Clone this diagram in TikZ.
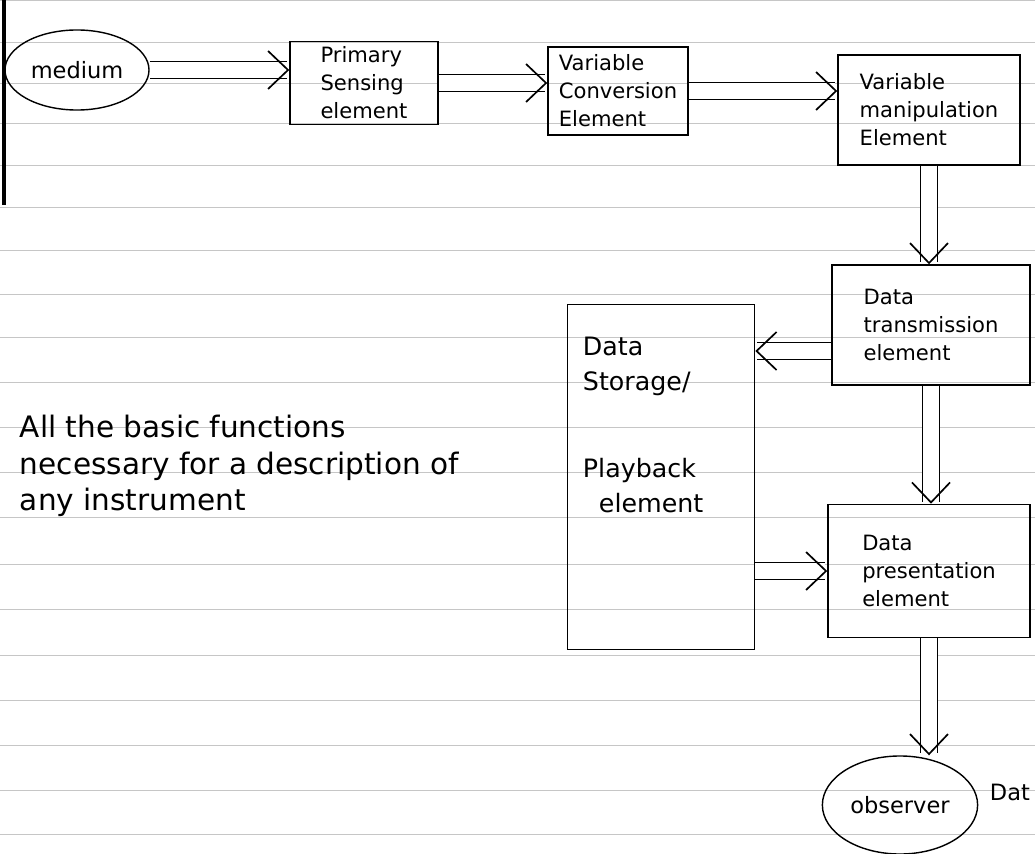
\documentclass[tikz,border=0pt]{standalone}
\usepackage{fontspec}
\setmainfont{DejaVu Sans}
\usetikzlibrary{shapes,arrows.meta}

\begin{document}
\begin{tikzpicture}[x=0.025cm, y=-0.025cm,
	box/.style={draw=black, line width=1pt, shape=rectangle, align=left, inner sep=2pt, font=\fontsize{15}{20}\selectfont},
	blob/.style={draw=black, line width=1pt, shape=ellipse, font=\fontsize{16}{19}\selectfont},
	dbl/.style={double, double distance=0.4cm, line width=0.8pt, -{Straight Barb[length=0.5cm, width=0.95cm, line width=1.2pt]}},
	rule/.style={gray!45, line width=0.6pt}]
	\useasboundingbox (0, 0) rectangle (1035, 854);
	\foreach \y in {0, 42, 83, 123, 165, 207, 250, 294, 337, 382, 427, 472, 517, 564, 609, 655, 700, 745, 790, 834}
		\draw [rule] (0, \y) -- (1035, \y);
	\draw [line width=2.5pt] (4, 0) -- (4, 205);
	\node [blob, minimum width=3.58cm, minimum height=2cm] (0) at (77, 70) {medium};
	\node [box, minimum width=3.7cm, minimum height=2.08cm] (1) at (364, 83) {Primary\\Sensing\\element};
	\node [box, minimum width=3.5cm, minimum height=2.2cm] (2) at (618, 91) {Variable\\Conversion\\Element};
	\node [box, minimum width=4.55cm, minimum height=2.75cm] (3) at (929, 110) {Variable\\manipulation\\Element};
	\node [box, minimum width=4.95cm, minimum height=3cm] (4) at (931, 325) {Data\\transmission\\element};
	\node [box, minimum width=4.68cm, minimum height=8.63cm] (5) at (661, 477) {};
	\node [anchor=north west, align=left, font=\fontsize{18}{25}\selectfont] (5t) at (578, 332) {Data\\Storage/\\[1.3cm]Playback\\\hspace{0.4cm}element};
	\node [box, minimum width=5.05cm, minimum height=3.33cm] (6) at (929, 571) {Data\\presentation\\element};
	\node [blob, minimum width=3.88cm, minimum height=2.45cm] (7) at (900, 805) {observer};
	\node [anchor=west, font=\fontsize{16}{19}\selectfont] (8) at (985, 792) {Dat};
	\node [anchor=west, align=left, font=\fontsize{21}{26}\selectfont] (9) at (15, 466) {All the basic functions\\necessary for a description of\\any instrument};
	\draw [dbl] (0.east) to (0.east -| 1.west);
	\draw [dbl] (1.east) to (1.east -| 2.west);
	\draw [dbl] (2.east) to (2.east -| 3.west);
	\draw [dbl] (3.south) to (3.south |- 4.north);
	\draw [dbl] ([yshift=-0.65cm]4.west) to ([yshift=-0.65cm]4.west -| 5.east);
	\draw [dbl] (4.south) to (4.south |- 6.north);
	\draw [dbl] (6.west -| 5.east) to (6.west);
	\draw [dbl] (6.south) to (6.south |- 7.north);
\end{tikzpicture}
\end{document}
